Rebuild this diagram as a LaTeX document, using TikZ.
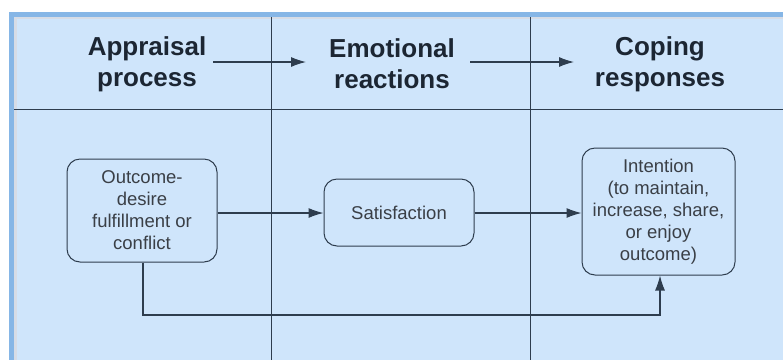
\documentclass[tikz,border=0pt]{standalone}
\usepackage{fontspec}
\setmainfont{Liberation Sans}
\usetikzlibrary{arrows.meta}
\definecolor{lanefill}{HTML}{CFE5FB}
\definecolor{rimblue}{HTML}{86B6E6}
\definecolor{rimgrey}{HTML}{D6DCE6}
\definecolor{lineclr}{HTML}{2E3D4E}
\definecolor{headtxt}{HTML}{1C2633}
\definecolor{nodetxt}{HTML}{3A3F46}
\tikzset{
  head/.style={font=\fontsize{26}{31}\selectfont\bfseries, text=headtxt, align=center, inner sep=0pt},
  proc/.style={draw=lineclr, line width=1pt, rounded corners=13pt, fill=lanefill, align=center,
    font=\fontsize{18.5}{22}\selectfont, text=nodetxt, inner sep=0pt},
  lane/.style={draw=lineclr, line width=1pt},
  conn/.style={draw=lineclr, line width=1.1pt, -{Latex[length=15pt,width=10pt]}},
}
\begin{document}
\begin{tikzpicture}[x=1pt,y=-1pt]
\useasboundingbox (0,0) rectangle (783,360);
\fill[white] (0,0) rectangle (783,360);
% frame
\fill[rimblue] (9,12) rectangle (783,360);
\fill[rimgrey] (14,17) rectangle (783,360);
\fill[lanefill] (17,19) rectangle (783,360);
% lanes
\draw[lane] (14,109.5) -- (783,109.5);
\draw[lane] (271.5,17) -- (271.5,360);
\draw[lane] (530,17) -- (530,360);
% headers
\node[head] (h1) at (147,64) {Appraisal\\process};
\node[head] (h2) at (392,64) {Emotional\\reactions};
\node[head] (h3) at (660,64) {Coping\\responses};
\coordinate (a1s) at (213,62);
\coordinate (a1e) at (306,62);
\coordinate (a2s) at (470,62);
\coordinate (a2e) at (574,62);
\draw[conn] (a1s) -- (a1e);
\draw[conn] (a2s) -- (a2e);
% nodes
\node[proc, minimum width=150pt, minimum height=103pt] (n1) at (142,210.5) {Outcome-\\desire\\fulfillment or\\conflict};
\node[proc, minimum width=150pt, minimum height=67pt] (n2) at (399,212.5) {Satisfaction};
\node[proc, minimum width=153pt, minimum height=127pt] (n3) at (658.5,211.5) {Intention\\(to maintain,\\increase, share,\\or enjoy\\outcome)};
\draw[conn] (n1.east |- 0,213) -- (n2.west |- 0,213);
\draw[conn] (n2.east |- 0,213) -- (n3.west |- 0,213);
\coordinate (c1) at (143,315);
\coordinate (c2) at (660,315);
\draw[conn] (n1.south -| c1) -- (c1) -- (c2) -- (n3.south -| c2);
\end{tikzpicture}
\end{document}
